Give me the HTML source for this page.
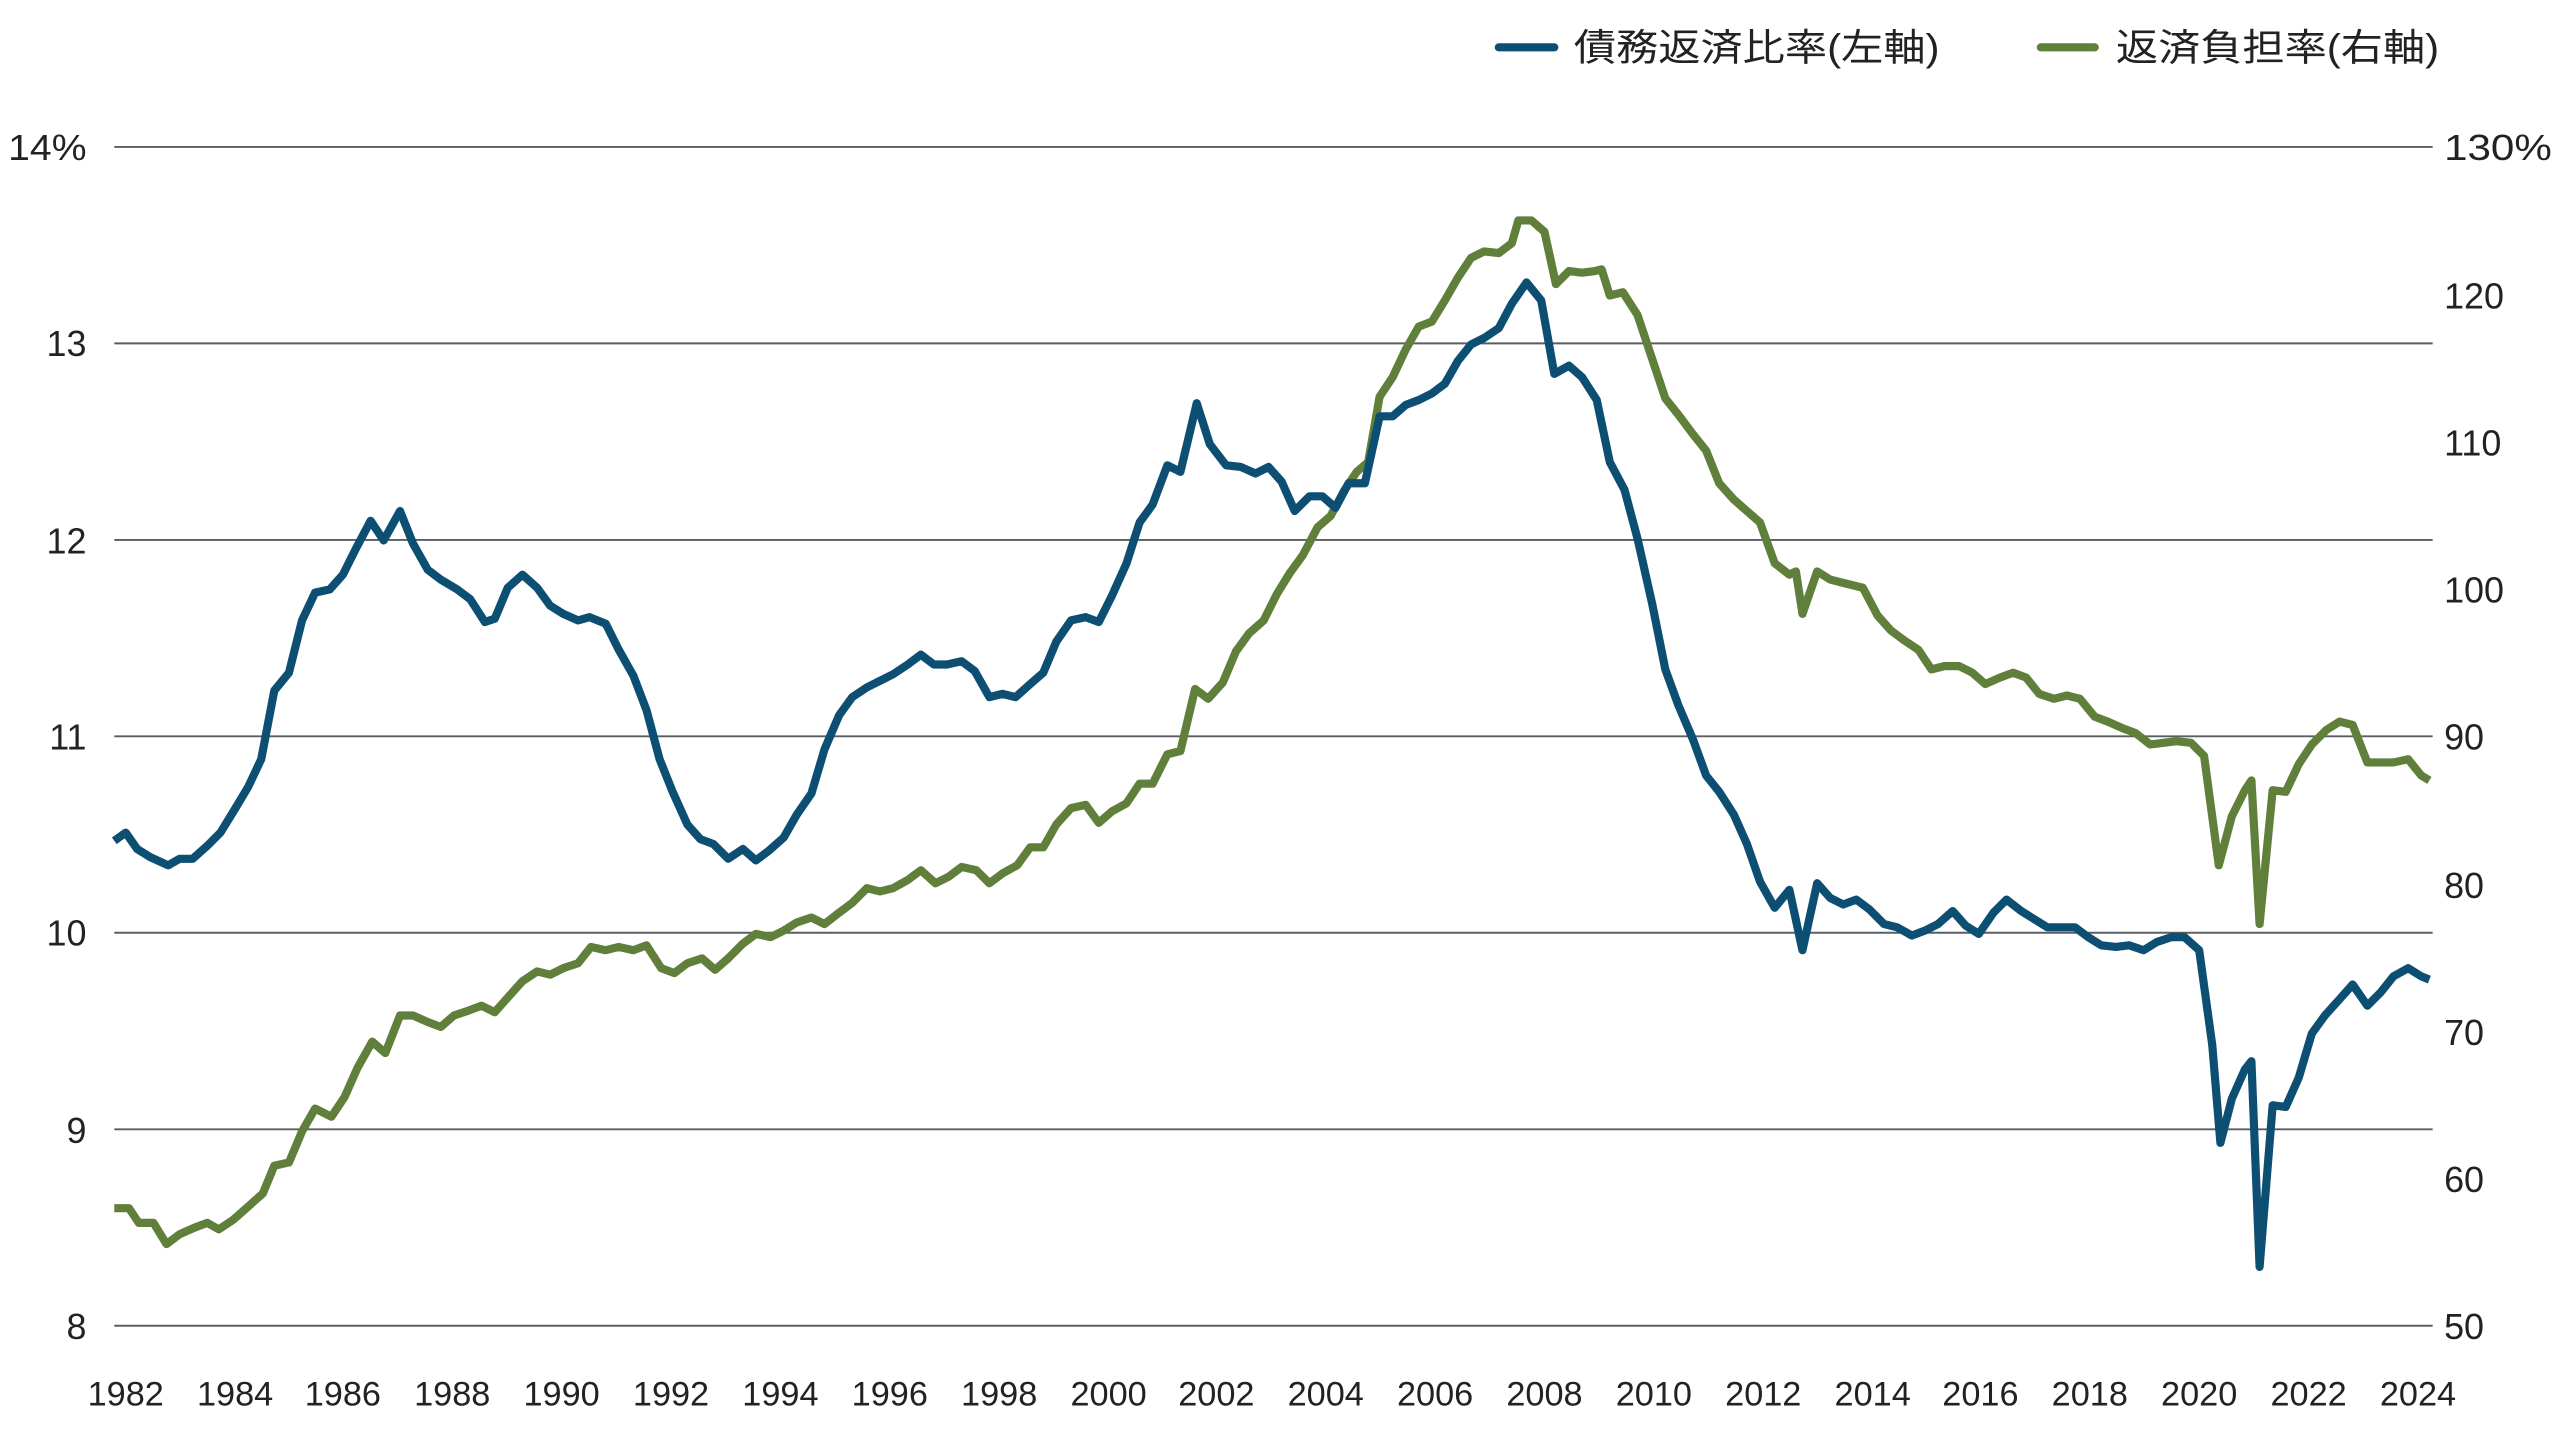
<!DOCTYPE html>
<html><head><meta charset="utf-8"><style>
html,body{margin:0;padding:0;background:#fff;width:2560px;height:1440px;overflow:hidden}
svg{display:block}
text{font-family:"Liberation Sans","Noto Sans CJK JP",sans-serif;fill:#222}
</style></head><body>
<svg width="2560" height="1440" viewBox="0 0 1568 882" xmlns="http://www.w3.org/2000/svg">
<g stroke="#5a5e64" stroke-width="1.2">
<line x1="70" x2="1490" y1="90" y2="90"/>
<line x1="70" x2="1490" y1="210.3" y2="210.3"/>
<line x1="70" x2="1490" y1="330.7" y2="330.7"/>
<line x1="70" x2="1490" y1="451" y2="451"/>
<line x1="70" x2="1490" y1="571.3" y2="571.3"/>
<line x1="70" x2="1490" y1="691.7" y2="691.7"/>
<line x1="70" x2="1490" y1="812" y2="812"/>
</g>
<g font-size="22" text-anchor="end">
<text x="53" y="98" textLength="48" lengthAdjust="spacingAndGlyphs">14%</text>
<text x="53" y="218">13</text>
<text x="53" y="339">12</text>
<text x="53" y="459">11</text>
<text x="53" y="579">10</text>
<text x="53" y="700">9</text>
<text x="53" y="820">8</text>
</g>
<g font-size="22">
<text x="1497" y="98" textLength="66" lengthAdjust="spacingAndGlyphs">130%</text>
<text x="1497" y="189">120</text>
<text x="1497" y="279">110</text>
<text x="1497" y="369">100</text>
<text x="1497" y="459">90</text>
<text x="1497" y="550">80</text>
<text x="1497" y="640">70</text>
<text x="1497" y="730">60</text>
<text x="1497" y="820">50</text>
</g>
<g font-size="21" text-anchor="middle">
<text x="77" y="861">1982</text><text x="144" y="861">1984</text><text x="210" y="861">1986</text><text x="277" y="861">1988</text><text x="344" y="861">1990</text><text x="411" y="861">1992</text><text x="478" y="861">1994</text><text x="545" y="861">1996</text><text x="612" y="861">1998</text><text x="679" y="861">2000</text><text x="745" y="861">2002</text><text x="812" y="861">2004</text><text x="879" y="861">2006</text><text x="946" y="861">2008</text><text x="1013" y="861">2010</text><text x="1080" y="861">2012</text><text x="1147" y="861">2014</text><text x="1213" y="861">2016</text><text x="1280" y="861">2018</text><text x="1347" y="861">2020</text><text x="1414" y="861">2022</text><text x="1481" y="861">2024</text>
</g>
<line x1="918" x2="952" y1="29" y2="29" stroke="#0d4f73" stroke-width="5" stroke-linecap="round"/>
<text x="964" y="37" font-size="23" textLength="224" lengthAdjust="spacingAndGlyphs">債務返済比率(左軸)</text>
<line x1="1250" x2="1283" y1="29" y2="29" stroke="#5f7f3a" stroke-width="5" stroke-linecap="round"/>
<text x="1296" y="37" font-size="23" textLength="198" lengthAdjust="spacingAndGlyphs">返済負担率(右軸)</text>
<polyline fill="none" stroke="#5f7f3a" stroke-width="5" stroke-linejoin="round" points="70,740 79,740 85,749 94,749 102,762 110,756 119,752 127,749 134,753 143,747 152,739 161,731 168,714 177,712 185,693 193,679 203,684 211,672 219,654 228,638 236,645 245,622 253,622 262,626 270,629 278,622 287,619 295,616 303,620 311,611 320,601 329,595 337,597 345,593 354,590 362,580 371,582 379,580 388,582 396,579 405,593 413,596 421,590 430,587 438,594 446,587 455,578 463,572 472,574 480,570 488,565 497,562 505,566 514,559 522,553 531,544 539,546 547,544 556,539 564,533 573,541 581,537 589,531 598,533 606,541 614,535 623,530 631,519 639,519 647,505 656,495 665,493 673,504 681,497 690,492 698,480 706,480 715,462 723,460 732,422 740,428 749,418 757,399 765,388 774,380 782,364 790,351 798,340 807,323 815,316 823,301 831,289 838,283 845,243 853,231 861,214 869,200 877,197 885,184 893,170 901,158 909,154 918,155 926,149 930,135 938,135 946,142 953,174 961,166 969,167 977,166 981,165 986,181 994,179 1003,193 1012,220 1020,244 1028,254 1037,266 1045,276 1053,296 1062,306 1070,313 1078,320 1087,345 1096,352 1100,350 1104,376 1113,350 1121,355 1129,357 1141,360 1150,377 1158,386 1166,392 1175,398 1183,410 1191,408 1200,408 1208,412 1216,419 1225,415 1233,412 1241,415 1249,425 1258,428 1266,426 1274,428 1283,439 1291,442 1300,446 1308,449 1317,456 1325,455 1333,454 1342,455 1350,463 1359,530 1367,500 1375,484 1379,478 1384,566 1392,484 1400,485 1408,468 1416,456 1425,447 1433,442 1441,444 1450,467 1458,467 1466,467 1475,465 1483,475 1488,478"/>
<polyline fill="none" stroke="#0d4f73" stroke-width="5" stroke-linejoin="round" points="70,515 77,510 84,520 92,525 103,530 110,526 118,526 127,518 135,510 143,497 152,482 160,465 168,423 177,412 185,380 193,363 202,361 210,352 218,336 227,319 235,331 245,313 253,333 262,349 270,355 280,361 288,367 297,381 303,379 311,360 320,352 329,360 337,371 345,376 354,380 361,378 371,382 379,398 388,414 396,435 404,465 412,485 421,505 429,514 437,517 446,526 455,520 463,527 471,521 480,513 488,499 497,486 505,459 514,438 522,427 531,421 539,417 547,413 556,407 564,401 572,407 580,407 589,405 597,411 606,427 614,425 622,427 631,419 639,412 647,393 656,380 665,378 673,381 681,365 690,345 698,320 706,309 715,285 723,289 733,247 741,272 751,285 760,286 769,290 777,286 785,295 793,313 802,304 810,304 818,311 826,296 836,296 845,255 853,255 861,248 869,245 877,241 885,235 893,221 901,211 909,207 918,201 926,186 935,173 944,184 952,229 961,224 969,231 978,245 986,283 995,300 1003,330 1012,370 1020,410 1028,432 1037,453 1045,475 1053,485 1062,499 1070,517 1078,540 1087,556 1096,545 1104,582 1113,541 1121,550 1129,554 1137,551 1145,557 1154,566 1162,568 1171,573 1179,570 1187,566 1196,558 1204,567 1212,572 1221,559 1229,551 1238,558 1246,563 1254,568 1262,568 1271,568 1279,574 1287,579 1296,580 1304,579 1313,582 1321,577 1330,574 1338,574 1347,582 1355,640 1360,700 1367,673 1375,655 1379,650 1384,776 1392,677 1400,678 1408,660 1416,633 1424,622 1433,612 1441,603 1450,616 1458,608 1466,598 1475,593 1483,598 1488,600"/>
</svg>
</body></html>
